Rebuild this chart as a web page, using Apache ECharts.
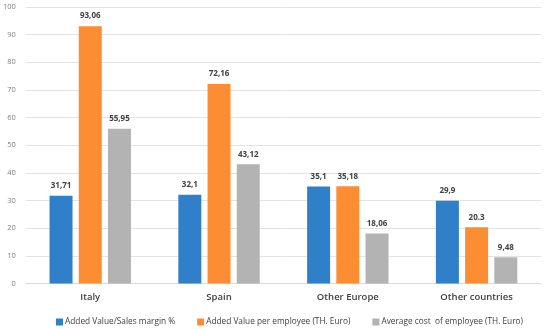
<!DOCTYPE html>
<html><head><meta charset="utf-8">
<script src="https://cdn.jsdelivr.net/npm/echarts@6/dist/echarts.min.js"></script>
<style>html,body{margin:0;padding:0;background:#fff}#c{width:550px;height:329px}</style>
</head><body><div id="c"></div>
<script>
const categories = ['Italy', 'Spain', 'Other Europe', 'Other countries'];
const seriesNames = ['Added Value/Sales margin %', 'Added Value per employee (TH. Euro)', 'Average cost  of employee (TH. Euro)'];
const marginValues = [31.71, 32.1, 35.1, 29.9];
const addedValues = [93.06, 72.16, 35.18, 20.3];
const costValues = [55.95, 43.12, 18.06, 9.48];
const marginLabels = ['31,71', '32,1', '35,1', '29,9'];
const addedLabels = ['93,06', '72,16', '35,18', '20.3'];
const costLabels = ['55,95', '43,12', '18,06', '9,48'];
const yTicks = [0, 10, 20, 30, 40, 50, 60, 70, 80, 90, 100];

const colors = ['#2f80c9', '#fd8d33', '#b3b3b3'];
const font = '"Open Sans", "Liberation Sans", sans-serif';
function mk(i, vals, labs) {
  return {
    name: seriesNames[i], type: 'bar', data: vals, barWidth: 23, barGap: '27%',
    itemStyle: { color: colors[i] },
    label: { show: true, position: 'top', distance: 6, fontSize: 8, fontWeight: 'bold', color: '#404040', fontFamily: font,
      formatter: p => labs[p.dataIndex] }
  };
}
const chart = echarts.init(document.getElementById('c'));
chart.setOption({
  animation: false,
  grid: { left: 25, right: 9, top: 7, bottom: 45.5 },
  legend: { top: 313, left: 51, itemWidth: 7, itemHeight: 7, itemGap: 22, icon: 'rect',
    textStyle: { fontSize: 8.3, color: '#404040', fontFamily: font, padding: [0, 0, 0, -3] } },
  xAxis: { type: 'category', data: categories,
    axisLine: { lineStyle: { color: '#d9d9d9' } }, axisTick: { show: false },
    axisLabel: { fontSize: 9.5, fontWeight: 600, color: '#404040', margin: 9, fontFamily: font } },
  yAxis: { type: 'value', min: yTicks[0], max: yTicks[yTicks.length - 1], interval: 10,
    axisLine: { show: false }, axisTick: { show: false },
    splitLine: { lineStyle: { color: '#e3e3e3' } },
    axisLabel: { fontSize: 7.5, color: '#7f7f7f', margin: 10, fontFamily: font } },
  series: [mk(0, marginValues, marginLabels), mk(1, addedValues, addedLabels), mk(2, costValues, costLabels)]
});
</script></body></html>
